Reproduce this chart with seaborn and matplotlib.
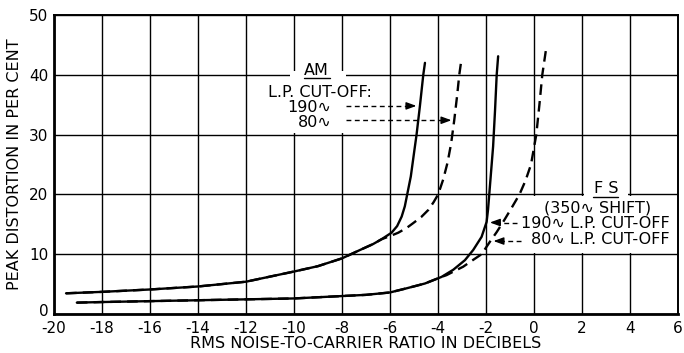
import numpy as np
import pandas as pd
import matplotlib
matplotlib.use("Agg")
import matplotlib.pyplot as plt
import matplotlib.transforms as mtransforms
import seaborn as sns
from matplotlib.patches import Rectangle

# Curves (noise-to-carrier dB, peak distortion %)
am190_x = [-19.5, -18, -16, -14, -12, -10, -9, -8, -7.25, -6.7, -6.35, -5.93, -5.7, -5.51, -5.38,
           -5.28, -5.13, -4.98, -4.89, -4.75, -4.61, -4.54]
am190_y = [3.46, 3.7, 4.1, 4.6, 5.4, 7.1, 8.0, 9.3, 10.7, 11.7, 12.5, 13.6, 14.7, 16.3, 18.0,
           20.0, 23.0, 27.4, 30.0, 34.8, 40.0, 42.0]

am80_x = [-19.5, -18, -16, -14, -12, -10, -9, -8, -7.25, -6.7, -6.35, -5.95, -5.65, -5.3, -5.03,
          -4.7, -4.4, -4.18, -3.99, -3.78, -3.6, -3.45, -3.32, -3.2, -3.11, -3.04]
am80_y = [3.46, 3.7, 4.1, 4.6, 5.4, 7.1, 8.0, 9.3, 10.7, 11.7, 12.5, 13.1, 13.6, 14.4, 15.2,
          16.2, 17.4, 18.7, 20.0, 22.5, 25.3, 28.5, 32.4, 36.5, 40.0, 42.0]

fs190_x = [-19.05, -18, -16, -14, -12, -10, -8, -7, -6, -5.3, -4.54, -3.85, -3.36, -2.875, -2.53,
           -2.18, -1.97, -1.91, -1.86, -1.78, -1.70, -1.62, -1.55, -1.49]
fs190_y = [1.9, 2.0, 2.15, 2.3, 2.45, 2.6, 3.0, 3.2, 3.6, 4.3, 5.1, 6.2, 7.4, 9.0, 10.7,
           12.9, 15.4, 17.5, 20.0, 24.0, 28.0, 34.0, 40.0, 43.1]

fs80_x = [-19.05, -18, -16, -14, -12, -10, -8, -7, -6, -5.3, -4.54, -3.85, -3.64, -3.3, -2.95,
          -2.55, -2.18, -1.83, -1.55, -1.28, -0.95, -0.6, -0.35, -0.12, 0.1, 0.23, 0.35, 0.5]
fs80_y = [1.9, 2.0, 2.15, 2.3, 2.45, 2.6, 3.0, 3.2, 3.6, 4.3, 5.1, 6.2, 6.5, 7.2, 7.9,
          9.0, 10.0, 12.1, 13.7, 15.4, 17.6, 20.0, 22.3, 25.0, 30.0, 35.0, 40.0, 44.1]

x_ticks = list(range(-20, 7, 2))
y_ticks = list(range(0, 51, 10))

sns.set_style("white")
plt.rcParams["font.family"] = ["DejaVu Sans"]
plt.rcParams["axes.unicode_minus"] = False
for key in ["text.color", "axes.labelcolor", "xtick.color", "ytick.color"]:
    plt.rcParams[key] = "black"

fig = plt.figure(figsize=(6.84, 3.53), dpi=100)
ax = fig.add_axes([0.079, 0.1105, 0.912, 0.847])

# grid
for xv in x_ticks:
    ax.axvline(xv, color="black", lw=1.0, zorder=1)
for yv in y_ticks:
    ax.axhline(yv, color="black", lw=1.0, zorder=1)

# white label panels that blank out the grid
ax.add_patch(Rectangle((-10.15, 30.2), 2.3, 10.4, facecolor="white", edgecolor="none", zorder=2))
ax.add_patch(Rectangle((-0.3, 10.2), 6.2, 9.6, facecolor="white", edgecolor="none", zorder=2))
ax.add_patch(Rectangle((2.08, 19.5), 1.84, 1.0, facecolor="white", edgecolor="none", zorder=2))

lw = 1.7
dash = (4.5, 2.6)
curves = [(am190_x, am190_y, None), (am80_x, am80_y, dash),
          (fs190_x, fs190_y, None), (fs80_x, fs80_y, dash)]
for cx, cy, d in curves:
    sns.lineplot(x=cx, y=cy, sort=False, estimator=None, color="black", lw=lw, ax=ax,
                 zorder=3 if d else 4)
    line = ax.lines[-1]
    line.set_solid_joinstyle("round")
    if d:
        line.set_dashes(d)

fs = 11.5
# AM labels
ax.text(-9.05, 40.75, "AM", ha="center", va="center", fontsize=fs, zorder=5)
ax.plot([-9.6, -8.5], [39.5, 39.5], color="black", lw=1.0, zorder=5)
ax.text(-8.9, 37.0, "L.P. CUT-OFF:", ha="center", va="center", fontsize=fs, zorder=5)
ax.text(-8.45, 34.5, "190∿", ha="right", va="center", fontsize=fs, zorder=5)
ax.text(-8.45, 32.1, "80∿", ha="right", va="center", fontsize=fs, zorder=5)

# FS labels
ax.text(3.0, 21.05, "F S", ha="center", va="center", fontsize=fs, zorder=5)
ax.plot([2.46, 3.5], [19.55, 19.55], color="black", lw=1.0, zorder=5)
ax.text(2.65, 17.7, "(350∿ SHIFT)", ha="center", va="center", fontsize=fs, zorder=5)
ax.text(5.65, 15.2, "190∿ L.P. CUT-OFF", ha="right", va="center", fontsize=fs, zorder=5)
ax.text(5.65, 12.4, "80∿ L.P. CUT-OFF", ha="right", va="center", fontsize=fs, zorder=5)

# dashed pointer arrows
arrows = [((-7.85, 34.8), (-4.78, 34.8)), ((-7.85, 32.4), (-3.32, 32.4)),
          ((-0.7, 15.3), (-1.95, 15.3)), ((-0.55, 12.2), (-1.8, 12.2))]
for (x0, y0), (x1, y1) in arrows:
    back = 0.4 if x1 > x0 else -0.4
    ax.plot([x0, x1 - back], [y0, y1], color="black", lw=1.0, dashes=(3.5, 2.5), zorder=5)
    ax.annotate("", xy=(x1, y1), xytext=(x1 - back, y1),
                arrowprops=dict(arrowstyle="-|>,head_length=0.6,head_width=0.22", color="black", lw=1.0),
                zorder=5)

ax.set_xlim(-20, 6)
ax.set_ylim(0, 50)
ax.set_xticks(x_ticks)
ax.set_yticks(y_ticks)
ax.set_xticklabels([str(v) for v in x_ticks], fontsize=11)
ax.set_yticklabels([str(v) for v in y_ticks], fontsize=11)
ax.tick_params(axis="x", length=0, pad=5)
ax.tick_params(axis="y", length=0, pad=4)
# nudge the "0" label up so it clears the "-20" below it
zero_lbl = ax.get_yticklabels()[0]
zero_lbl.set_transform(zero_lbl.get_transform() + mtransforms.ScaledTranslation(0, 3 / 72, fig.dpi_scale_trans))
ax.set_xlabel("RMS NOISE-TO-CARRIER RATIO IN DECIBELS", fontsize=11.5, labelpad=0)
ax.set_ylabel("PEAK DISTORTION IN PER CENT", fontsize=11.5, labelpad=5)
for side in ["left", "bottom"]:
    ax.spines[side].set_linewidth(2.0)
for side in ["top", "right"]:
    ax.spines[side].set_linewidth(1.4)
for s in ax.spines.values():
    s.set_color("black")
    s.set_zorder(6)

fig.savefig("out.png", dpi=100, facecolor="white")
